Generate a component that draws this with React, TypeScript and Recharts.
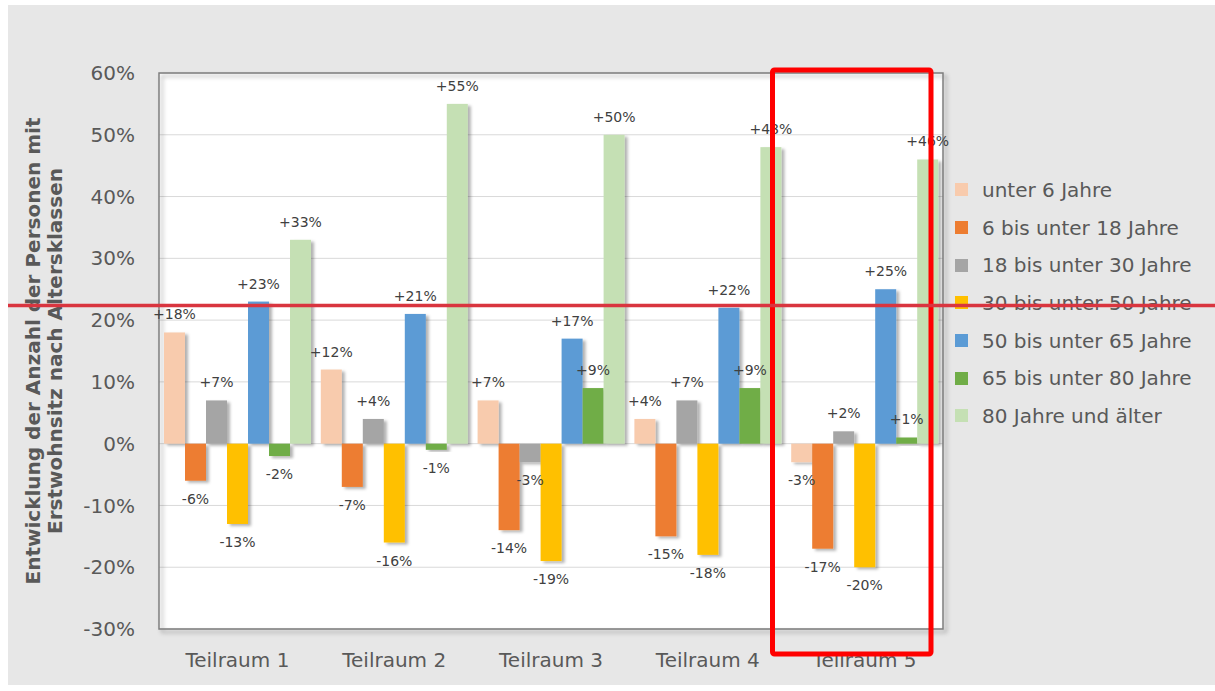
import React from "react";
import {
  Bar,
  BarChart,
  CartesianGrid,
  LabelList,
  ReferenceArea,
  XAxis,
  YAxis,
} from "recharts";

const categories = ["Teilraum 1", "Teilraum 2", "Teilraum 3", "Teilraum 4", "Teilraum 5"];

const seriesNames = [
  "unter 6 Jahre",
  "6 bis unter 18 Jahre",
  "18 bis unter 30 Jahre",
  "30 bis unter 50 Jahre",
  "50 bis unter 65 Jahre",
  "65 bis unter 80 Jahre",
  "80 Jahre und älter",
];

const seriesColors = ["#F8CBAD", "#ED7D31", "#A5A5A5", "#FFC000", "#5B9BD5", "#70AD47", "#C5E0B4"];

// change in % per Teilraum
const unter6 = [18, 12, 7, 4, -3];
const von6bis18 = [-6, -7, -14, -15, -17];
const von18bis30 = [7, 4, -3, 7, 2];
const von30bis50 = [-13, -16, -19, -18, -20];
const von50bis65 = [23, 21, 17, 22, 25];
const von65bis80 = [-2, -1, 9, 9, 1];
const ab80 = [33, 55, 50, 48, 46];

const seriesValues = [unter6, von6bis18, von18bis30, von30bis50, von50bis65, von65bis80, ab80];

const yTicks = [-30, -20, -10, 0, 10, 20, 30, 40, 50, 60];

const data = categories.map((name, i) => {
  const row: Record<string, string | number> = { name };
  seriesNames.forEach((s, j) => {
    row[s] = seriesValues[j][i];
  });
  return row;
});

const FONT = "DejaVu Sans";
const textGray = "#595959";

function ShadowBar(props: any) {
  const { x, y, width, height, fill } = props;
  if (width == null || height == null) return null;
  const top = height < 0 ? y + height : y;
  return (
    <rect x={x} y={top} width={width} height={Math.abs(height)} fill={fill} filter="url(#barShadow)" />
  );
}

function renderValueLabel(props: any) {
  const vb = props.viewBox ?? props;
  const { x, y, width, height } = vb;
  const value = Number(props.value);
  const top = Math.min(y, y + height);
  const bottom = Math.max(y, y + height);
  const cx = x + width / 2;
  const ty = value >= 0 ? top - 13 : bottom + 23;
  return (
    <text x={cx} y={ty} textAnchor="middle" fontSize={14} fontFamily={FONT} fill="#404040">
      {value > 0 ? `+${value}%` : `${value}%`}
    </text>
  );
}

function YTitle(props: any) {
  const vb = props.viewBox;
  const cx = 38;
  const cy = vb.y + vb.height / 2;
  return (
    <text
      x={cx}
      y={cy}
      transform={`rotate(-90 ${cx} ${cy})`}
      textAnchor="middle"
      fontSize={20}
      fontWeight="bold"
      fontFamily={FONT}
      fill={textGray}
    >
      <tspan x={cx} dy="-0.3em">Entwicklung der Anzahl der Personen mit</tspan>
      <tspan x={cx} dy="1.1em">Erstwohnsitz nach Altersklassen</tspan>
    </text>
  );
}

export default function App() {
  return (
    <div
      style={{
        position: "absolute",
        left: 8,
        top: 5,
        width: 1207,
        height: 680,
        background: "#e7e7e7",
        fontFamily: FONT,
      }}
    >
      <BarChart
        width={1207}
        height={680}
        data={data}
        margin={{ top: 68, right: 272, bottom: 0, left: 0 }}
        barCategoryGap={5}
        barGap={0}
      >
        <defs>
          <filter id="barShadow" x="-30%" y="-30%" width="160%" height="160%">
            <feDropShadow dx="3" dy="2" stdDeviation="1.5" floodColor="#000" floodOpacity="0.3" />
          </filter>
          <filter id="plotShadow" x="-5%" y="-5%" width="110%" height="110%">
            <feDropShadow dx="3" dy="3" stdDeviation="2" floodColor="#000" floodOpacity="0.35" />
          </filter>
        </defs>
        <CartesianGrid vertical={false} stroke="#d9d9d9" fill="#ffffff" fillOpacity={1} />
        <XAxis
          dataKey="name"
          height={56}
          axisLine={false}
          tickLine={false}
          tickSize={0}
          tickMargin={24}
          tick={{ fill: textGray, fontSize: 20, fontFamily: FONT }}
        />
        <YAxis
          width={151}
          domain={[-30, 60]}
          ticks={yTicks}
          axisLine={false}
          tickLine={false}
          tickSize={0}
          tickMargin={24}
          tickFormatter={(v: number) => `${v}%`}
          tick={{ fill: textGray, fontSize: 20, fontFamily: FONT }}
          label={<YTitle />}
        />
        <ReferenceArea
          y1={-30}
          y2={60}
          fill="none"
          stroke="#7f7f7f"
          strokeWidth={1.5}
          filter="url(#plotShadow)"
        />
        {seriesNames.map((s, j) => (
          <Bar
            key={s}
            dataKey={s}
            fill={seriesColors[j]}
            shape={ShadowBar}
            isAnimationActive={false}
          >
            <LabelList dataKey={s} content={renderValueLabel} />
          </Bar>
        ))}
      </BarChart>

      <div style={{ position: "absolute", left: 947, top: 166 }}>
        {seriesNames.map((s, j) => (
          <div
            key={s}
            style={{ display: "flex", alignItems: "center", height: 37.7, fontSize: 20, color: textGray }}
          >
            <span
              style={{ width: 13, height: 13, background: seriesColors[j], marginRight: 14, display: "inline-block" }}
            />
            {s}
          </div>
        ))}
      </div>

      <svg
        width={1207}
        height={680}
        style={{ position: "absolute", left: 0, top: 0, pointerEvents: "none" }}
      >
        <rect x={764.5} y={65} width={158.5} height={584} rx={2} fill="none" stroke="#ff0000" strokeWidth={5} />
        <line x1={0} y1={300.5} x2={1207} y2={300.5} stroke="#d9353f" strokeWidth={3.5} />
      </svg>
    </div>
  );
}
